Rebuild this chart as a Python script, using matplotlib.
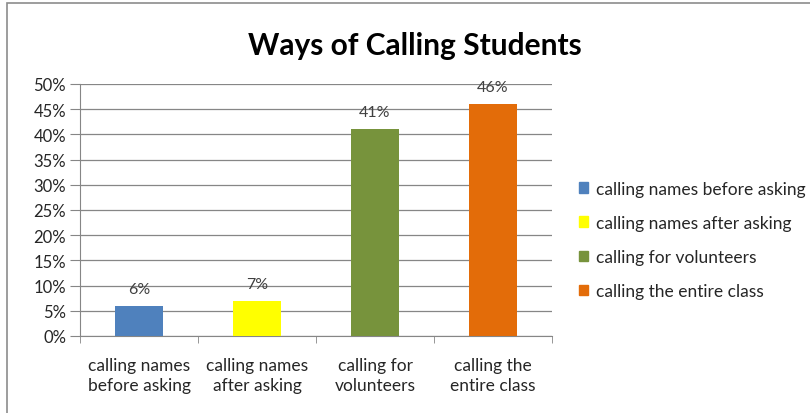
import matplotlib.pyplot as plt
import numpy as np
from matplotlib.patches import Rectangle
from matplotlib.ticker import FixedLocator

plt.rcParams['font.family'] = ['Lato', 'DejaVu Sans']

# DONNEES
categories = ["calling names\nbefore asking", "calling names\nafter asking",
              "calling for\nvolunteers", "calling the\nentire class"]
legend_labels = ["calling names before asking", "calling names after asking",
                 "calling for volunteers", "calling the entire class"]
values = [6, 7, 41, 46]
colors = ["#4f81bd", "#ffff00", "#77933c", "#e36c09"]
grid_col = "#868686"
txt_col = "#262626"

fig = plt.figure(figsize=(8.1, 4.14), dpi=100)
ax = fig.add_axes([0.0988, 0.186, 0.5827, 0.6087])

# CADRE
fig.patches.append(Rectangle((7/810, -0.1), 1.2, 1 - 4/414 + 0.1, transform=fig.transFigure,
                             fill=False, edgecolor="#8c8c8c", linewidth=1.2))

x = np.arange(len(values))
ax.bar(x, values, width=0.4, color=colors, zorder=3)
for xi, v in zip(x, values):
    ax.text(xi, v + 2.0, f"{v}%", ha="center", va="bottom", fontsize=11.5, color="#404040")

ax.set_xlim(-0.5, 3.5)
ax.set_ylim(0, 50)
ax.set_yticks(range(0, 55, 5))
ax.set_yticklabels([f"{t}%" for t in range(0, 55, 5)])
ax.grid(axis="y", color=grid_col, linewidth=0.9, zorder=0)

ax.set_xticks(x)
ax.set_xticklabels(categories, fontsize=12.5, color=txt_col, linespacing=1.35)
ax.tick_params(axis="x", length=0, pad=15)
ax.xaxis.set_minor_locator(FixedLocator([-0.5, 0.5, 1.5, 2.5, 3.5]))
ax.tick_params(axis="x", which="minor", length=5, color=grid_col)
ax.tick_params(axis="y", length=7, color=grid_col, labelsize=12, labelcolor=txt_col, pad=3)

for s in ["top", "right"]:
    ax.spines[s].set_visible(False)
ax.spines["left"].set_color(grid_col)
ax.spines["bottom"].set_color(grid_col)

# LEGENDE
handles = [Rectangle((0, 0), 1, 1, color=c) for c in colors]
fig.legend(handles, legend_labels, loc="center left", bbox_to_anchor=(0.695, 0.418),
           frameon=False, fontsize=12.5, handlelength=0.55, handleheight=0.55,
           handletextpad=0.45, labelspacing=1.05, labelcolor=txt_col)

fig.text(0.512, 0.89, "Ways of Calling Students", ha="center", va="center",
         fontsize=21.5, fontweight="bold", color="black")

fig.savefig("out.png", dpi=100)
